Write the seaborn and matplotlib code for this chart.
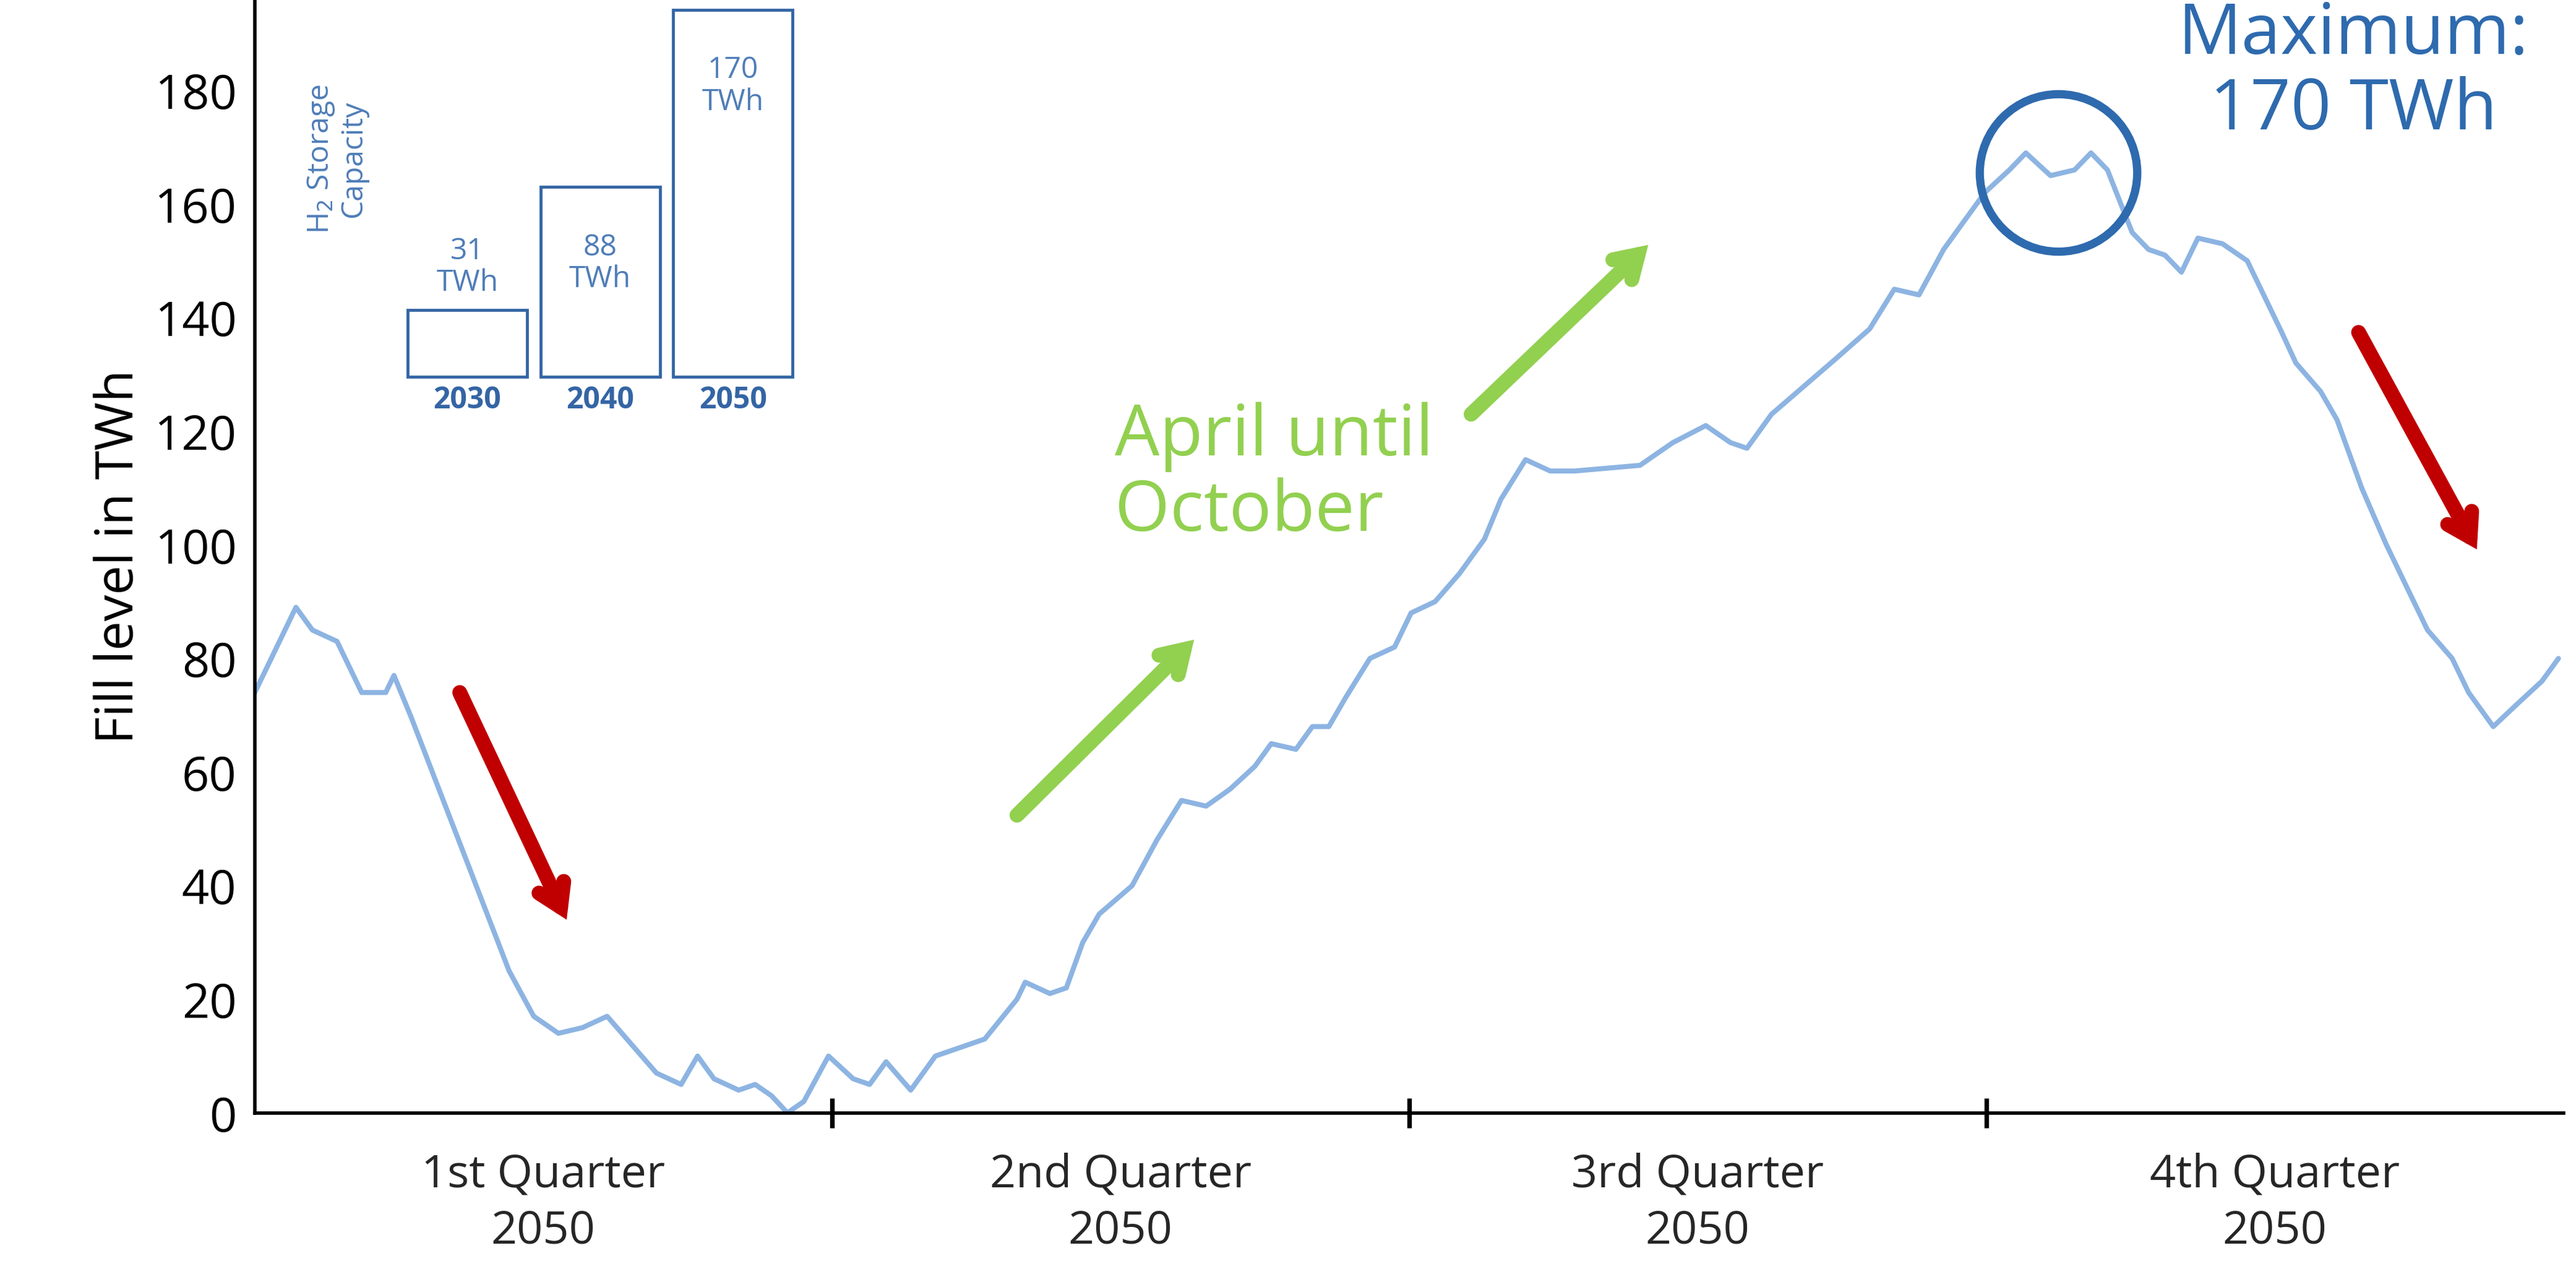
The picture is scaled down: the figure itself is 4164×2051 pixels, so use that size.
import numpy as np
import pandas as pd
import matplotlib
matplotlib.use("Agg")
import matplotlib.pyplot as plt
import seaborn as sns

day = [0, 2.6, 6.5, 9.1, 13, 16.9, 20.7, 22, 24.6, 29.8, 35, 40.2, 44.1, 48, 51.8, 55.7, 59.6, 63.5, 67.4, 70,
       72.6, 76.5, 79.1, 81.7, 84.2, 86.8, 90.7, 94.6, 97.2, 99.8, 103.7, 107.6, 112.8, 115.4, 120.5, 121.8,
       125.7, 128.3, 130.9, 133.5, 138.7, 142.6, 146.5, 150.4, 154.2, 158.1, 160.7, 164.6, 167.2, 169.8, 172.4,
       176.3, 180.2, 182.8, 186.6, 190.5, 194.4, 197, 200.9, 204.8, 208.7, 219, 224.2, 229.4, 233.3, 235.9,
       239.8, 245, 250.2, 255.3, 259.2, 263.1, 267, 270.9, 273.5, 277.4, 280, 283.9, 287.7, 290.3, 292.9,
       296.8, 299.4, 302, 304.6, 307.2, 311.1, 315, 320.2, 322.7, 326.6, 329.2, 333.1, 337, 340.9, 343.5,
       347.4, 350, 353.9, 357.7, 361.6, 364.2]
fill = [74, 80, 89, 85, 83, 74, 74, 77, 70, 55, 40, 25, 17, 14, 15, 17, 12, 7, 5, 10,
        6, 4, 5, 3, 0, 2, 10, 6, 5, 9, 4, 10, 12, 13, 20, 23,
        21, 22, 30, 35, 40, 48, 55, 54, 57, 61, 65, 64, 68, 68, 73,
        80, 82, 88, 90, 95, 101, 108, 115, 113, 113, 114, 118, 121, 118, 117,
        123, 128, 133, 138, 145, 144, 152, 158, 162, 166, 169, 165, 166, 169, 166,
        155, 152, 151, 148, 154, 153, 150, 138, 132, 127, 122, 110, 100, 91, 85,
        80, 74, 68, 72, 76, 80]

years = ["2030", "2040", "2050"]
capacity = [31, 88, 170]
quarters = ["1st Quarter\n2050", "2nd Quarter\n2050", "3rd Quarter\n2050", "4th Quarter\n2050"]

sns.set_theme(style="white")
plt.rcParams['font.family'] = ['Open Sans', 'DejaVu Sans']

fig = plt.figure(figsize=(15.68, 7.725), dpi=265.6)
ax = fig.add_axes([0.0989, 0.123, 0.8961, 0.877])
df = pd.DataFrame({"day": day, "fill": fill})
sns.lineplot(data=df, x="day", y="fill", ax=ax, color="#8DB4E2", lw=2.2)

ax.set_xlim(0, 365)
ax.set_ylim(0, 196)
ax.set_yticks(range(0, 181, 20))
ax.tick_params(axis='y', length=0, labelsize=21, pad=8, colors='black')
ax.set_xticks([91.25, 182.5, 273.75])
ax.set_xticklabels([])
ax.tick_params(axis='x', direction='inout', length=13, width=2, color='black', bottom=True)
for s in ["top", "right"]:
    ax.spines[s].set_visible(False)
for s in ["left", "bottom"]:
    ax.spines[s].set_color("black")
    ax.spines[s].set_linewidth(1.5)
ax.set_xlabel("")
ax.set_ylabel("Fill level in TWh", fontsize=23, color="black")
for i, q in enumerate(quarters):
    ax.text(91.25 * i + 45.6, -0.035, q, transform=ax.get_xaxis_transform(), ha='center', va='top',
            fontsize=20, linespacing=1.3)

# inset capacity boxes
bx = [33.6, 54.6, 75.6]
base = 129.6
blue = "#4F7DB8"
ax.bar(bx, [c * 0.38 for c in capacity], bottom=base, width=18.9, facecolor='none', edgecolor="#3465A4", lw=1.3)
for x, c, y in zip(bx, capacity, years):
    top = base + c * 0.38
    ty = top + 13 if c < 50 else top - 8
    ax.text(x, ty, f"{c}\nTWh", ha='center', va='top', fontsize=13, color=blue, linespacing=1.1)
    ax.text(x, base - 1.5, y, ha='center', va='top', fontsize=13, color="#3465A4", fontweight='bold')
ax.text(13, 168, "H$_2$ Storage\nCapacity", rotation=90, ha='center', va='center', fontsize=13, color=blue,
        linespacing=1.1)

# circle around maximum
ax.plot([285.1], [165.5], marker='o', markersize=69, mfc='none', mec="#2E6AAE", mew=3.6)
ax.text(331.8, 196, "Maximum:\n170 TWh", ha='center', va='top', fontsize=31, color="#2E6AAE", linespacing=1.1)
ax.text(136, 125.3, "April until\nOctober", ha='left', va='top', fontsize=31, color="#92D050", linespacing=1.1)

arrows = [((32.4, 74), (49.3, 34), "#C00000"), ((332.6, 137.4), (351.3, 99.2), "#C00000"),
          ((120.5, 52.4), (148.5, 83.3), "#92D050"), ((192.3, 123), (220.3, 152.8), "#92D050")]
for (x0, y0), (x1, y1), c in arrows:
    ax.annotate("", xy=(x1, y1), xytext=(x0, y0),
                arrowprops=dict(arrowstyle="->,head_length=0.8,head_width=0.5", color=c, lw=6.5,
                                shrinkA=0, shrinkB=0, capstyle='round', joinstyle='miter'))

fig.savefig("out.png", dpi=265.6)
